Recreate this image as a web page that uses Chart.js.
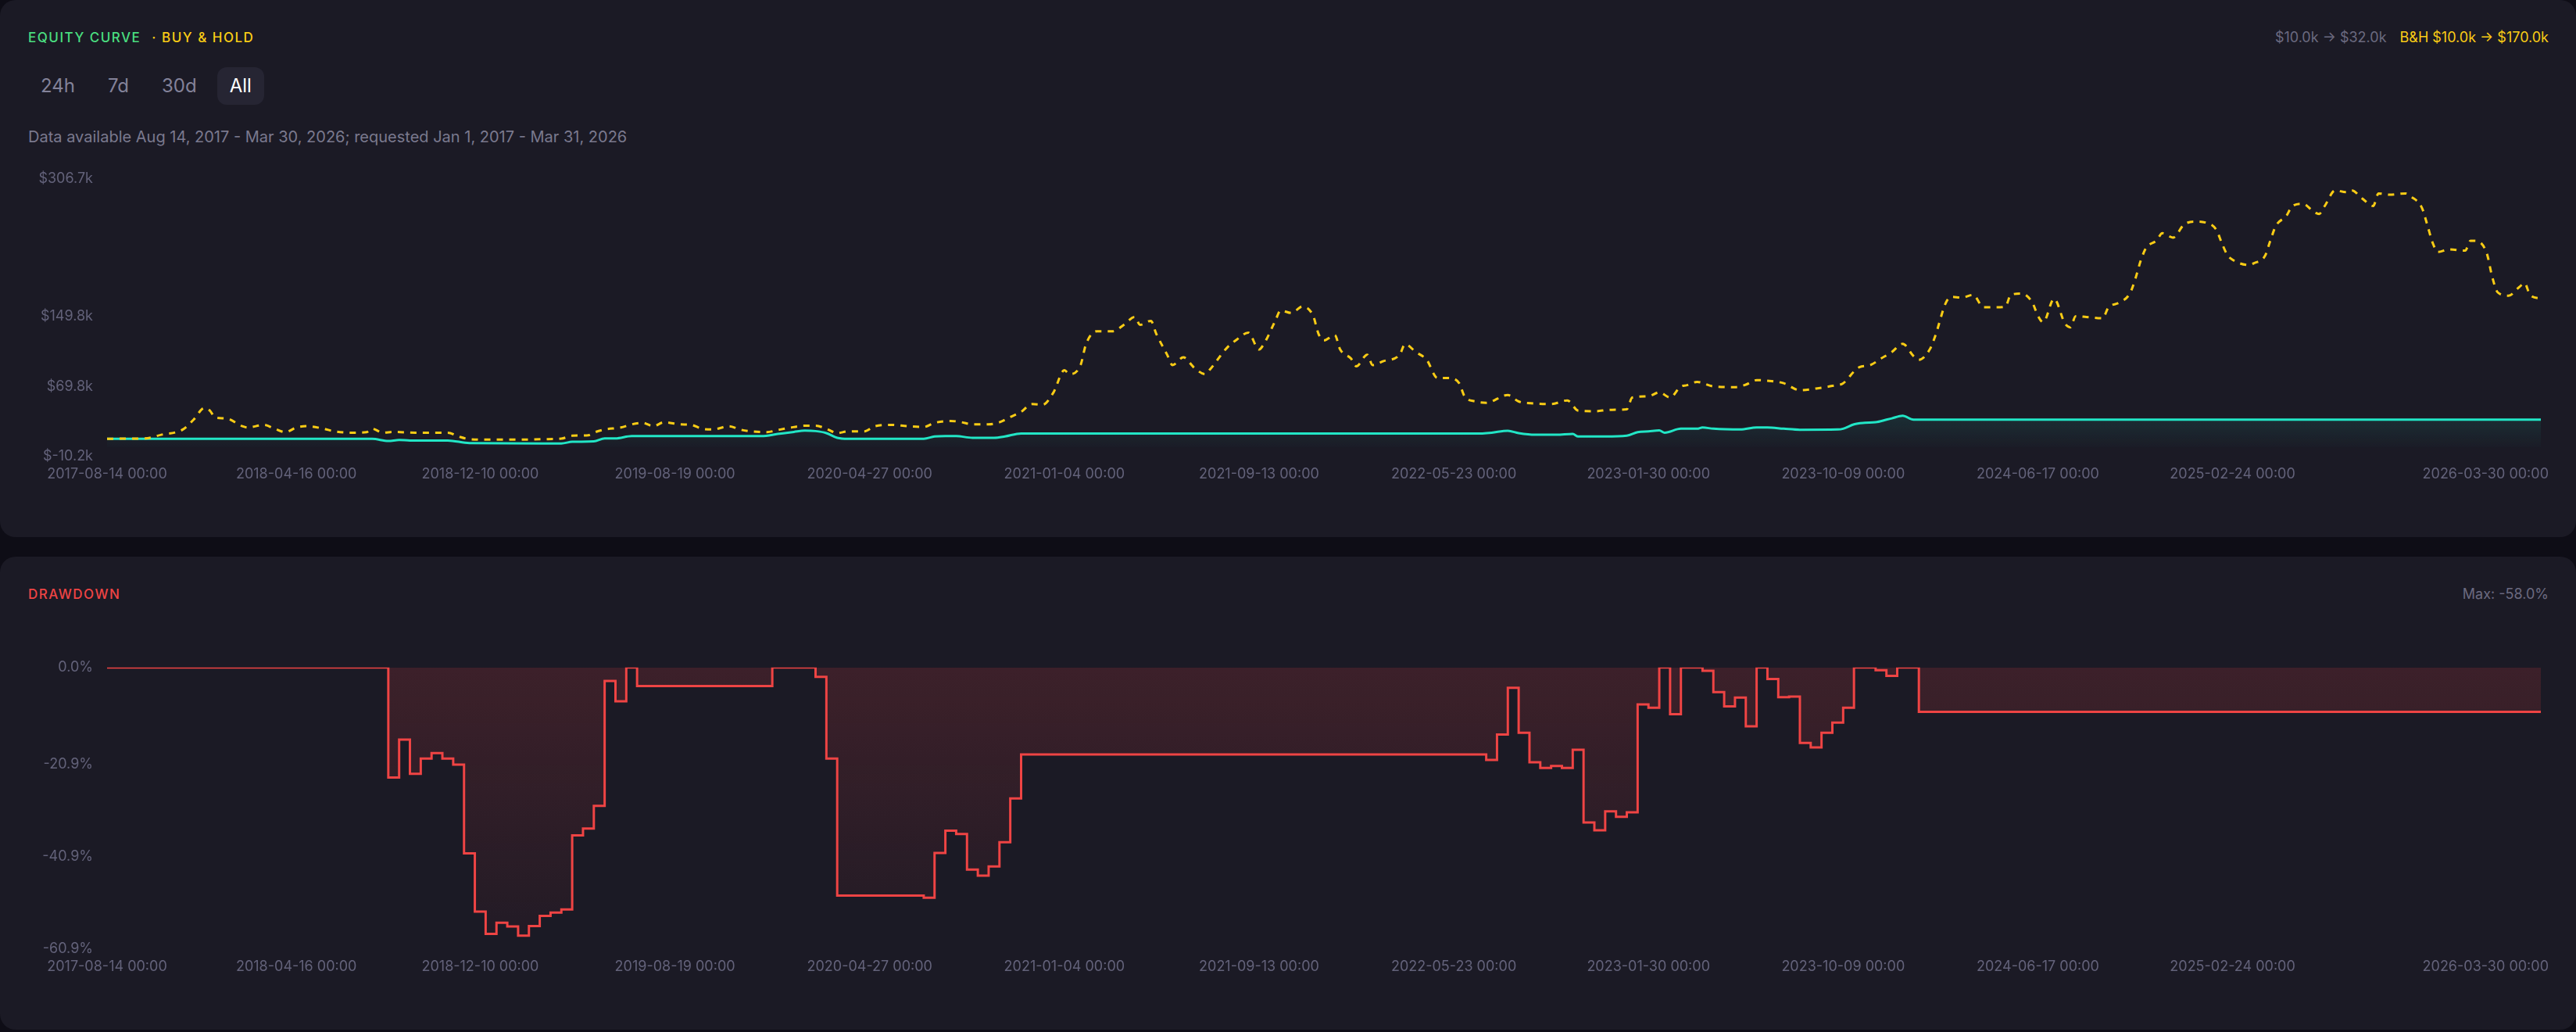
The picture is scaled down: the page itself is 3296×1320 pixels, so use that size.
<!DOCTYPE html>
<html>
<head>
<meta charset="utf-8">
<script src="https://cdn.jsdelivr.net/npm/chart.js@4.4.1/dist/chart.umd.min.js"></script>
<style>
html,body{margin:0;padding:0;}
body{width:3296px;height:1320px;background:#0e0d16;position:relative;overflow:hidden;font-family:Inter,'Noto Sans',sans-serif;}
.panel{position:absolute;left:0;width:3296px;background:#1b1a25;border-radius:20px;}
#p1{top:0;height:687px;}
#p2{top:712px;height:605px;}
.title{position:absolute;left:36px;top:36px;height:24px;line-height:24px;font-size:17px;font-weight:500;letter-spacing:1.5px;white-space:nowrap;}
.eq{color:#4ade80;}
.bh{color:#facc15;margin-left:14px;}
.dd{color:#ef4444;}
.hdr-right{position:absolute;right:35px;top:36px;height:24px;line-height:24px;font-size:18px;white-space:nowrap;}
.gray{color:#6b6a80;}
.yel{color:#facc15;margin-left:17px;}
.btns{position:absolute;left:36px;top:86px;display:flex;gap:10px;}
.btn{height:48px;line-height:48px;padding:0 16px;font-size:24px;color:#838299;border-radius:12px;}
.btn.active{background:#262533;color:#ffffff;}
.sub{position:absolute;left:36px;top:163px;height:24px;line-height:24px;font-size:20px;color:#7a798e;white-space:nowrap;}
.chartbox{position:absolute;left:36px;width:3224px;}
#c1box{top:200px;height:430px;}
#c2box{top:825px;height:435px;}
</style>
</head>
<body>
<div class="panel" id="p1">
  <div class="title"><span class="eq">EQUITY CURVE</span><span class="bh">· BUY &amp; HOLD</span></div>
  <div class="hdr-right"><span class="gray">$10.0k → $32.0k</span><span class="yel">B&amp;H $10.0k → $170.0k</span></div>
  <div class="btns"><div class="btn">24h</div><div class="btn">7d</div><div class="btn">30d</div><div class="btn active">All</div></div>
  <div class="sub">Data available Aug 14, 2017 - Mar 30, 2026; requested Jan 1, 2017 - Mar 31, 2026</div>
</div>
<div class="panel" id="p2">
  <div class="title"><span class="dd">DRAWDOWN</span></div>
  <div class="hdr-right"><span class="gray">Max: -58.0%</span></div>
</div>
<div class="chartbox" id="c1box"><canvas id="c1"></canvas></div>
<div class="chartbox" id="c2box"><canvas id="c2"></canvas></div>
<script>
// ---- categories: weekly candles from 2017-08-14 to 2026-03-30 ----
const startDate = '2017-08-14';
const weekCount = 451;
const labels = [];
(function(){
  const d0 = Date.UTC(2017, 7, 14);
  for (let i = 0; i < weekCount; i++) {
    const d = new Date(d0 + i * 7 * 86400000);
    const s = d.getUTCFullYear() + '-' + String(d.getUTCMonth() + 1).padStart(2, '0') + '-' + String(d.getUTCDate()).padStart(2, '0') + ' 00:00';
    labels.push(s);
  }
})();

// ---- x tick labels shown ----
const xTickLabels = ['2017-08-14 00:00','2018-04-16 00:00','2018-12-10 00:00','2019-08-19 00:00','2020-04-27 00:00','2021-01-04 00:00','2021-09-13 00:00','2022-05-23 00:00','2023-01-30 00:00','2023-10-09 00:00','2024-06-17 00:00','2025-02-24 00:00','2026-03-30 00:00'];

// ---- y ticks ----
const yTicksEquity = [-10.2, 69.8, 149.8, 306.7];   // $k
const yTicksDrawdown = [-60.9, -40.9, -20.9, 0];    // %

// ---- Buy & Hold ($k) at week index ----
const bhWeeks = [0,3,7,10,14,16,18,19,20,22,25,26,29,31,33,35,37,40,42,45,48,49,51,53,57,63,65,67,71,76,81,84,86,89,90,92,95,97,99,101,103,106,108,110,112,115,117,119,122,124,126,129,131,133,135,137,140,142,145,148,151,153,156,158,160,163,165,167,169,171,173,175,177,178,180,181,183,186,188,190,191,193,194,196,197,199,201,203,204,207,209,211,213,214,216,217,219,221,223,224,225,227,228,230,231,233,234,236,239,240,242,244,246,248,250,251,253,255,259,261,264,267,270,272,275,278,281,282,285,287,289,291,292,294,297,301,303,305,307,310,313,316,319,321,323,324,326,328,330,332,334,335,337,338,340,341,343,345,347,349,351,352,354,356,357,358,360,362,363,364,366,369,370,372,374,375,376,377,379,380,382,384,386,388,390,391,392,393,396,397,399,400,401,403,404,406,408,409,410,412,414,415,417,419,420,422,425,426,428,429,430,431,433,436,437,438,440,441,442,444,446,447,448,450];
const bhValues = [10.0,10.3,10.5,14.7,20.7,31.9,45.3,42.3,34.3,33.4,24.5,23.0,26.0,21.6,17.7,23.0,24.5,21.6,18.6,17.1,17.7,21.6,17.1,17.9,17.1,17.1,12.7,9.7,9.1,9.1,9.7,10.3,13.6,14.2,17.1,20.7,23.0,26.6,28.3,24.5,29.0,26.6,26.0,21.6,20.7,24.5,20.7,18.6,17.7,20.1,22.4,25.1,25.1,21.6,16.6,18.6,18.6,24.5,26.0,24.5,23.6,28.3,30.5,29.0,26.6,26.6,29.0,34.9,40.8,49.7,49.1,63.1,88.3,83.9,94.2,118.0,132.8,132.8,140.2,149.1,140.2,144.7,129.8,106.1,94.2,103.1,91.3,83.9,89.8,113.5,123.9,131.3,112.0,119.5,144.7,156.5,153.6,161.0,150.6,129.8,122.4,128.4,112.0,101.7,92.8,106.1,94.2,98.7,106.1,118.0,109.1,100.2,79.4,79.4,73.5,58.6,52.7,51.2,60.1,52.7,50.4,49.7,53.9,42.3,41.5,43.2,43.8,57.2,58.6,63.1,57.2,69.9,71.1,75.0,69.9,69.0,71.9,77.0,76.4,73.5,65.5,67.5,70.5,73.5,86.8,91.9,94.2,101.7,109.1,118.6,104.6,100.2,112.0,126.9,165.4,172.0,171.2,174.3,160.1,160.1,161.0,174.3,175.8,165.4,150.6,143.2,169.9,141.8,137.3,150.0,149.1,147.6,159.6,165.4,175.8,192.1,213.0,227.8,236.6,244.7,239.7,254.4,258.0,256.9,248.6,233.7,220.3,214.4,208.5,210.6,218.8,236.6,253.0,264.9,275.3,278.2,269.3,266.7,275.3,293.6,291.5,293.6,284.2,275.8,290.1,288.6,290.1,286.5,273.8,254.4,233.7,223.3,226.3,224.8,236.1,236.0,221.9,195.2,177.4,173.4,183.2,187.7,174.3,170.0];

// ---- Strategy equity ($k) at week index ----
const eqWeeks = [0,49,52,54,56,63,67,84,86,90,92,94,97,121,124,127,129,131,133,135,137,151,153,155,157,160,164,166,169,254,256,259,261,264,268,271,272,277,281,283,285,287,288,291,294,295,297,302,305,307,310,313,320,321,323,325,327,329,330,332,334,450];
const eqValues = [10.0,10.0,7.6,8.7,8.2,8.2,5.2,4.8,6.7,7.1,10.5,10.5,13.2,13.2,15.6,18.0,19.4,18.9,16.6,11.2,10.0,10.2,12.7,13.2,13.2,11.2,11.2,12.7,16.2,16.2,17.1,19.2,16.6,14.7,14.7,15.6,12.7,12.7,13.6,17.7,18.6,19.6,17.1,21.6,21.6,23.0,21.6,20.7,23.0,23.0,21.6,20.4,20.7,21.6,26.6,28.3,29.0,31.9,33.4,36.4,32.0,32.0];

// ---- Drawdown (%) at week index, stepped ----
const ddWeeks = [0,52,54,56,58,60,62,64,66,68,70,72,74,76,78,80,82,84,86,88,90,92,94,96,98,123,131,133,135,151,153,155,157,159,161,163,165,167,169,255,257,259,261,263,265,267,269,271,273,275,277,279,281,283,285,287,289,291,295,297,299,301,303,305,307,309,311,313,315,317,319,321,323,327,329,331,335,450];
const ddValues = [0,-23.8,-15.6,-23.0,-19.7,-18.5,-19.7,-21.0,-40.2,-52.8,-57.6,-55.2,-56.0,-58.0,-55.9,-53.7,-53.0,-52.3,-36.3,-34.8,-29.9,-2.9,-7.3,0,-4.0,0,-2.0,-19.7,-49.3,-49.8,-40.1,-35.3,-36.0,-43.7,-45.0,-43.0,-37.8,-28.3,-18.8,-20.0,-14.5,-4.4,-14.1,-20.5,-21.7,-21.3,-21.7,-17.8,-33.5,-35.2,-31.1,-32.3,-31.3,-8.0,-8.7,0,-10.1,0,-0.7,-5.3,-8.4,-6.5,-12.7,0,-2.5,-6.4,-6.3,-16.3,-17.3,-14.1,-11.9,-8.7,0,-0.6,-1.8,0,-9.6,-9.6];

function toPoints(weeks, values) {
  return weeks.map((w, i) => ({ x: labels[w], y: values[i] }));
}
const xTickIdx = xTickLabels.map(l => labels.indexOf(l));

const tickColor = '#63627a';
Chart.defaults.font.family = 'Inter, "Noto Sans", sans-serif';
Chart.defaults.font.size = 18;
Chart.defaults.color = tickColor;

// last x label is kept inside the plot (right aligned at the end)
const edgeLabel = {
  id: 'edgeLabel',
  beforeDraw(chart) {
    const sc = chart.scales.x;
    const items = sc.getLabelItems(chart.chartArea);
    const last = items[items.length - 1];
    if (last && !last._shifted) {
      last.options.textAlign = 'right';
      last.options.translation[0] += 10;
      last._shifted = true;
    }
  }
};

function xScale() {
  return {
    type: 'category',
    grid: { display: false, drawTicks: false },
    border: { display: false },
    ticks: { autoSkip: false, maxRotation: 0, minRotation: 0, padding: 12, color: tickColor },
    afterBuildTicks: (sc) => { sc.ticks = xTickIdx.map(i => ({ value: i })); },
    afterFit: (sc) => { sc.paddingLeft = 0; sc.paddingRight = 0; sc.height = 40; }
  };
}

function build() {
  new Chart(document.getElementById('c1'), {
    type: 'line',
    data: {
      labels: labels,
      datasets: [
        {
          label: 'Buy & Hold',
          data: toPoints(bhWeeks, bhValues),
          borderColor: '#facc15',
          borderWidth: 3,
          borderDash: [8, 8],
          pointRadius: 0,
          cubicInterpolationMode: 'monotone',
          fill: false
        },
        {
          label: 'Equity',
          data: toPoints(eqWeeks, eqValues),
          borderColor: '#22e6c6',
          borderWidth: 3,
          pointRadius: 0,
          cubicInterpolationMode: 'monotone',
          fill: 'origin',
          backgroundColor: (ctx) => {
            const chart = ctx.chart;
            if (!chart.chartArea) return 'rgba(34,230,198,0.08)';
            const y = chart.scales.y;
            const g = chart.ctx.createLinearGradient(0, y.getPixelForValue(36), 0, y.getPixelForValue(0));
            g.addColorStop(0, 'rgba(34,230,198,0.10)');
            g.addColorStop(1, 'rgba(34,230,198,0.01)');
            return g;
          }
        }
      ]
    },
    options: {
      responsive: true,
      maintainAspectRatio: false,
      animation: false,
      layout: { padding: { top: 28, right: 9, bottom: 6, left: 0 } },
      plugins: { legend: { display: false }, tooltip: { enabled: false } },
      scales: {
        x: xScale(),
        y: {
          min: -10.2, max: 306.7,
          grid: { display: false, drawTicks: false },
          border: { display: false },
          ticks: { padding: 18, color: tickColor, callback: (v) => '$' + Number(v).toFixed(1) + 'k' },
          afterBuildTicks: (sc) => { sc.ticks = yTicksEquity.map(v => ({ value: v })); },
          afterFit: (sc) => { sc.width = 101; }
        }
      }
    },
    plugins: [edgeLabel]
  });

  new Chart(document.getElementById('c2'), {
    type: 'line',
    data: {
      labels: labels,
      datasets: [
        {
          label: 'Drawdown',
          data: toPoints(ddWeeks, ddValues),
          borderColor: '#ef4444',
          borderWidth: 3,
          pointRadius: 0,
          stepped: true,
          fill: 'origin',
          backgroundColor: (ctx) => {
            const chart = ctx.chart;
            if (!chart.chartArea) return 'rgba(239,68,68,0.1)';
            const y = chart.scales.y;
            const g = chart.ctx.createLinearGradient(0, y.getPixelForValue(0), 0, y.getPixelForValue(-60.9));
            g.addColorStop(0, 'rgba(239,68,68,0.16)');
            g.addColorStop(1, 'rgba(239,68,68,0.03)');
            return g;
          }
        }
      ]
    },
    options: {
      responsive: true,
      maintainAspectRatio: false,
      animation: false,
      layout: { padding: { top: 28.4, right: 9, bottom: 6, left: 0 } },
      plugins: { legend: { display: false }, tooltip: { enabled: false } },
      scales: {
        x: xScale(),
        y: {
          min: -60.9, max: 0,
          grid: { display: false, drawTicks: false },
          border: { display: false },
          ticks: { padding: 18, color: tickColor, callback: (v) => Number(v).toFixed(1) + '%' },
          afterBuildTicks: (sc) => { sc.ticks = yTicksDrawdown.map(v => ({ value: v })); },
          afterFit: (sc) => { sc.width = 101; }
        }
      }
    },
    plugins: [edgeLabel]
  });
}

if (document.fonts && document.fonts.ready) { document.fonts.ready.then(build); } else { build(); }
</script>
</body>
</html>
